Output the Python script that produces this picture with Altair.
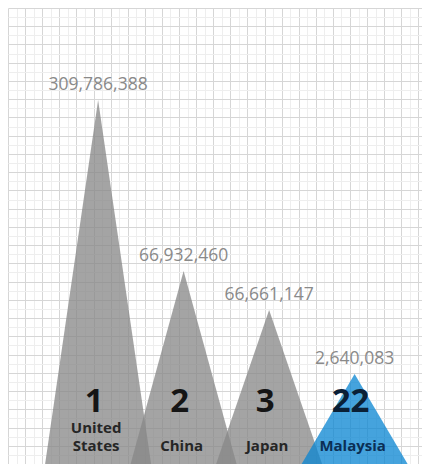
import altair as alt
import pandas as pd

# ---- data ----
countries = ["United States", "China", "Japan", "Malaysia"]
ranks = [1, 2, 3, 22]
values = [309786388, 66932460, 66661147, 2640083]
peak_heights = [19.96, 10.58, 8.44, 4.93]   # drawn height of each peak (grid units)
highlight = "Malaysia"

# ---- layout ----
W, H = 414, 456
X_MAX, Y_MAX = W / 17.1, 25
START, STEP, HALF = 5.27, 5.0, 3.1
GRAY, BLUE = "#888888", "#0a86d2"

rows = []
for i, (c, h) in enumerate(zip(countries, peak_heights)):
    cx = START + STEP * i
    for px, py in [(cx - HALF, 0.0), (cx, float(h)), (cx + HALF, 0.0)]:
        rows.append({"country": c, "px": px, "py": py})
tri = pd.DataFrame(rows)

info = pd.DataFrame({"country": countries, "rank": ranks, "value": values,
                     "height": peak_heights, "idx": list(range(len(countries)))})
info["cx"] = START + STEP * info["idx"]
info["hl"] = (info["country"] == highlight).astype(int)
parts = [c.split(" ", 1) for c in countries]
info["top"] = [p[0] if len(p) > 1 else "" for p in parts]
info["bottom"] = [p[1] if len(p) > 1 else p[0] for p in parts]

xs = alt.Scale(domain=[0, X_MAX], nice=False, zero=False)
ys = alt.Scale(domain=[0, Y_MAX], nice=False, zero=False)

def grid_axis(vals, color):
    return alt.Axis(values=vals, grid=True, gridColor=color, gridWidth=1,
                    labels=False, ticks=False, domain=False, title=None)

major = [float(k) for k in range(26)]
minor = [k + 0.5 for k in range(26)]

minor_layer = alt.Chart(tri).mark_point(opacity=0).encode(
    x=alt.X("px:Q", scale=xs, axis=grid_axis(minor, "#eeeeee")),
    y=alt.Y("py:Q", scale=ys, axis=grid_axis(minor, "#eeeeee")),
)

areas = alt.Chart(tri).mark_area(opacity=0.76).encode(
    x=alt.X("px:Q", scale=xs, axis=grid_axis(major, "#d6d6d6")),
    y=alt.Y("py:Q", scale=ys, stack=None, axis=grid_axis(major, "#d6d6d6")),
    color=alt.Color("country:N", legend=None,
                    scale=alt.Scale(domain=countries,
                                    range=[GRAY, GRAY, GRAY, BLUE])),
)

is_hl = alt.datum.hl == 1

value_labels = alt.Chart(info).mark_text(
    font="Open Sans", fontSize=17.5, color="#8a8a8a", baseline="alphabetic", dy=-10
).encode(
    x=alt.X("cx:Q", scale=xs, axis=None),
    y=alt.Y("height:Q", scale=ys, axis=None),
    text=alt.Text("value:Q", format=","),
)

rank_labels = alt.Chart(info).mark_text(
    font="Open Sans", fontSize=33, fontWeight="bold", baseline="alphabetic", dx=-4
).encode(
    x=alt.X("cx:Q", scale=xs, axis=None),
    y=alt.value(404),
    text="rank:N",
    color=alt.condition(is_hl, alt.value("#0a2036"), alt.value("#151515")),
)

name_bottom = alt.Chart(info).mark_text(
    font="Open Sans", fontSize=15, fontWeight="bold", baseline="alphabetic", dx=-2
).encode(
    x=alt.X("cx:Q", scale=xs, axis=None),
    y=alt.value(443),
    text="bottom:N",
    color=alt.condition(is_hl, alt.value("#0b2f55"), alt.value("#262626")),
)

name_top = alt.Chart(info).mark_text(
    font="Open Sans", fontSize=15, fontWeight="bold", baseline="alphabetic", dx=-2
).encode(
    x=alt.X("cx:Q", scale=xs, axis=None),
    y=alt.value(425),
    text="top:N",
    color=alt.condition(is_hl, alt.value("#0b2f55"), alt.value("#262626")),
)

chart = alt.layer(minor_layer, areas, value_labels, rank_labels, name_top, name_bottom).resolve_axis(
    x="independent", y="independent"
).properties(
    width=W, height=H, padding=0, autosize="none", background="white"
).configure_view(stroke=None)

chart.save("out.html", embed_options={"renderer": "svg", "actions": False})
